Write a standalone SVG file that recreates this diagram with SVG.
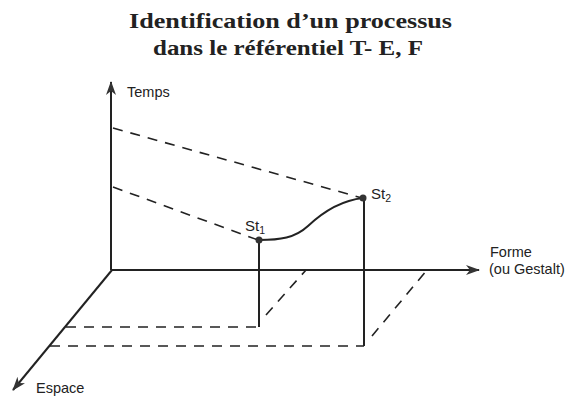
<svg xmlns="http://www.w3.org/2000/svg" width="570" height="399" viewBox="0 0 570 399">
<style>
.axis{stroke:#222;stroke-width:2;fill:none}
.dash{stroke:#222;stroke-width:1.6;fill:none;stroke-dasharray:10 8}
.lbl{font-family:"Liberation Sans",Arial,sans-serif;font-size:14.5px;fill:#222}
.st{font-family:"Liberation Sans",Arial,sans-serif;font-size:15px;fill:#222}
.sub{font-size:10.5px}
.title{font-family:"Liberation Serif","Times New Roman",serif;font-weight:bold;font-size:22px;fill:#222}
</style>
<defs>
<marker id="ah" viewBox="0 0 14 10" refX="13" refY="5" markerWidth="14" markerHeight="10" markerUnits="userSpaceOnUse" orient="auto">
<path d="M0,0 L14,5 L0,10 L4,5 Z" fill="#333"/>
</marker>
</defs>
<rect width="570" height="399" fill="#fff"/>
<g id="title">
<text class="title" x="129" y="28" textLength="323" lengthAdjust="spacingAndGlyphs">Identification d’un processus</text>
<text class="title" x="153" y="55" textLength="270" lengthAdjust="spacingAndGlyphs">dans le référentiel T- E, F</text>
</g>
<g id="connectors">
<line class="axis" x1="111" y1="270" x2="111" y2="82" marker-end="url(#ah)"/>
<line class="axis" x1="111" y1="270" x2="479" y2="270" marker-end="url(#ah)"/>
<line class="axis" x1="112" y1="270" x2="13" y2="390" marker-end="url(#ah)"/>
<line class="dash" x1="113" y1="128" x2="362" y2="198"/>
<line class="dash" x1="113" y1="187" x2="258" y2="240"/>
<line class="dash" x1="66" y1="327" x2="259" y2="327"/>
<line class="dash" x1="50" y1="346" x2="364" y2="346"/>
<line class="dash" x1="266" y1="315" x2="306" y2="270"/>
<line class="dash" x1="372" y1="336" x2="427" y2="270"/>
<line class="axis" x1="259" y1="240" x2="259" y2="327"/>
<line class="axis" x1="364" y1="198" x2="364" y2="346"/>
<path class="axis" d="M259,240 C280,240 295,238 308,226 C325,210 345,200 363,198"/>
</g>
<g id="St1">
<circle cx="259" cy="240" r="3.5" fill="#333"/>
<text class="st" x="245" y="231">St<tspan class="sub" dy="3">1</tspan></text>
</g>
<g id="St2">
<circle cx="363" cy="198" r="3.5" fill="#333"/>
<text class="st" x="371" y="199">St<tspan class="sub" dy="3">2</tspan></text>
</g>
<g id="Temps"><text class="lbl" x="127" y="97">Temps</text></g>
<g id="Forme"><text class="lbl" x="490" y="257">Forme</text><text class="lbl" x="489" y="274">(ou Gestalt)</text></g>
<g id="Espace"><text class="lbl" x="36" y="393">Espace</text></g>
</svg>
